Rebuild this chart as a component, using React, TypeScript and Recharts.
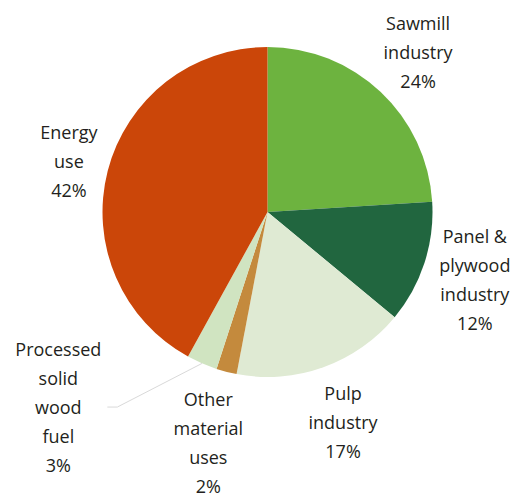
import { Cell, Pie, PieChart } from "recharts";

const categories = [
  "Sawmill industry",
  "Panel & plywood industry",
  "Pulp industry",
  "Other material uses",
  "Processed solid wood fuel",
  "Energy use",
];
const shares = [24, 12, 17, 2, 3, 42];
const labelLines = [
  ["Sawmill", "industry"],
  ["Panel &", "plywood", "industry"],
  ["Pulp", "industry"],
  ["Other", "material", "uses"],
  ["Processed", "solid", "wood", "fuel"],
  ["Energy", "use"],
];
const colors = ["#6db33f", "#21663f", "#dfead3", "#c48a3d", "#d0e4c1", "#cb4609"];

// label distance from centre, and angle override (compass degrees) where the label sits off-axis
const labelRadius = [220, 218, 223, 238, 286, 205];
const labelAngle: (number | null)[] = [null, null, null, null, 227, null];

const data = categories.map((name, i) => ({ name, value: shares[i] }));

const RAD = Math.PI / 180;
const LH = 29;

function renderLabel(props: any) {
  const { cx, cy, midAngle, outerRadius, index } = props;
  const compass = labelAngle[index] ?? 90 - midAngle;
  const r = labelRadius[index];
  const x = cx + r * Math.sin(compass * RAD);
  const y = cy - r * Math.cos(compass * RAD);
  const lines = [...labelLines[index], `${shares[index]}%`];
  const top = y - ((lines.length - 1) / 2) * LH;
  let leader = null;
  if (labelAngle[index] != null) {
    const ex = cx + outerRadius * Math.cos(-midAngle * RAD);
    const ey = cy + outerRadius * Math.sin(-midAngle * RAD);
    leader = (
      <polyline
        points={`${ex},${ey} ${x + 59},${y} ${x + 49},${y}`}
        fill="none"
        stroke="#d9d9d9"
        strokeWidth={1}
      />
    );
  }
  return (
    <g key={`lbl-${index}`}>
      {leader}
      <text
        x={x}
        y={top}
        textAnchor="middle"
        fill="#231f20"
        fontFamily="'Open Sans', sans-serif"
        fontSize={18}
      >
        {lines.map((t, k) => (
          <tspan key={k} x={x} y={top + k * LH} dominantBaseline="central">
            {t}
          </tspan>
        ))}
      </text>
    </g>
  );
}

export default function App() {
  return (
    <div style={{ position: "absolute", left: 0, top: 0, background: "#fff" }}>
      <PieChart width={515} height={498}>
        <Pie
          data={data}
          dataKey="value"
          nameKey="name"
          cx={262.5}
          cy={207}
          outerRadius={165}
          startAngle={90}
          endAngle={-270}
          stroke="none"
          label={renderLabel}
          labelLine={false}
          isAnimationActive={false}
        >
          {data.map((d, i) => (
            <Cell key={d.name} fill={colors[i]} />
          ))}
        </Pie>
      </PieChart>
    </div>
  );
}
